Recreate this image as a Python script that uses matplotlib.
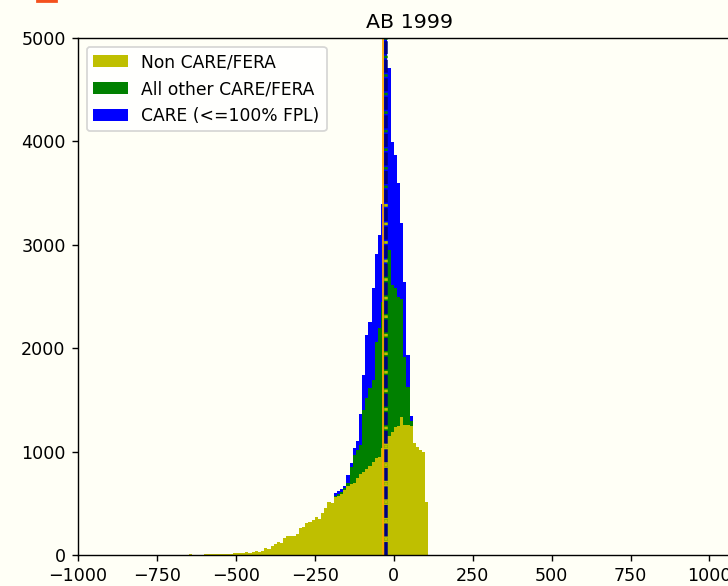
import numpy as np
import matplotlib.pyplot as plt
from matplotlib.patches import Rectangle

# bin edges of the histogram (width 10)
edges = np.arange(-650, 111, 10)
centers = (edges[:-1] + edges[1:]) / 2

# counts per bin
non_care = [8, 0, 0, 0, 0, 8, 10, 10, 10, 10,
            12, 12, 12, 14, 15, 15, 16, 18, 26, 22,
            26, 40, 32, 34, 70, 58, 90, 105, 130, 120,
            168, 180, 180, 185, 200, 264, 270, 306, 320, 335,
            370, 345, 403, 458, 513, 500, 564, 575, 590, 630,
            670, 690, 700, 740, 780, 800, 830, 860, 900, 940,
            950, 1030, 1080, 1150, 1190, 1240, 1250, 1330, 1260, 1260,
            1250, 1080, 1040, 1015, 1000, 510]
# bins -190 .. 50
other_care = [0] * 46 + [11, 15, 20, 20, 23, 164, 267, 275, 284, 600,
                         685, 752, 792, 1123, 1250, 1420, 1720, 1800, 1421, 1340,
                         1250, 1150, 658, 360, 50] + [0] * 5
care_100 = [0] * 46 + [25, 25, 30, 20, 81, 33, 64, 85, 296, 341,
                       612, 644, 887, 848, 894, 944, 2500, 1756, 1386, 1288,
                       1094, 728, 725, 314, 40] + [0] * 5

labels = ['Non CARE/FERA', 'All other CARE/FERA', 'CARE (<=100% FPL)']
mean_line = -25
median_line = -33

bg = '#fffff6'
dpi = 126
fig = plt.figure(figsize=(728 / dpi, 586 / dpi), dpi=dpi, facecolor=bg)
ax = fig.add_axes([78 / 728, 31 / 586, 663 / 728, 517 / 586], facecolor=bg)

ax.hist([centers, centers, centers], bins=edges,
        weights=[non_care, other_care, care_100],
        stacked=True, color=['y', 'g', 'b'], label=labels)

ax.axvline(median_line, color='orange', lw=1)
ax.axvline(mean_line, color='g', lw=2, ls=(1.175, (0.75, 4.55)))
ax.vlines(mean_line, 0, 3400, color='y', lw=2, ls=(1.175, (0.75, 4.55)))
ax.axvline(mean_line, color='navy', lw=2, ls='--')

ax.set_xlim(-1000, 1100)
ax.set_ylim(0, 5000)
ax.set_xticks(np.arange(-1000, 1001, 250))
ax.set_title('AB 1999', fontsize=11.7)
ax.legend(loc='upper left', fontsize=9.8)

# small orange mark cut off at the top edge
fig.add_artist(Rectangle((37 / 728, 1 - 2 / 586), 20 / 728, 2 / 586,
                         transform=fig.transFigure, color='#f4511e'))

fig.savefig('out.png', dpi=dpi, facecolor=bg)
